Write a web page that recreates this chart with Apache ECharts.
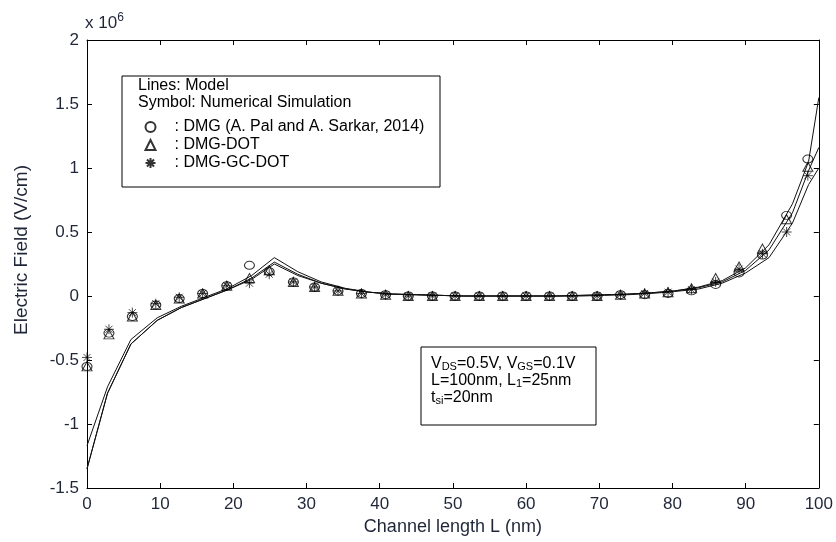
<!DOCTYPE html>
<html><head><meta charset="utf-8">
<script src="https://cdn.jsdelivr.net/npm/echarts@6/dist/echarts.min.js"></script>
<style>html,body{margin:0;padding:0;background:#fff}#c{width:836px;height:542px}</style>
</head><body><div id="c"></div>
<script>
// x positions (nm) of numerical simulation points
const simX = [0, 3.0, 6.2, 9.4, 12.6, 15.8, 19.1, 22.2, 24.9, 28.2, 31.1, 34.3, 37.5, 40.8, 43.9, 47.2, 50.3, 53.6, 56.8, 60.0, 63.2, 66.3, 69.7, 72.9, 76.2, 79.4, 82.6, 85.9, 89.1, 92.3, 95.6, 98.5];
// simulation values (x 10^6 V/cm)
const simDMG   = [-0.55, -0.29, -0.16, -0.07, -0.02, 0.02, 0.08, 0.24, 0.19, 0.11, 0.07, 0.04, 0.02, 0.01, 0.0, 0.0, 0.0, 0.0, 0.0, 0.0, 0.0, 0.0, 0.0, 0.01, 0.01, 0.02, 0.04, 0.09, 0.18, 0.32, 0.63, 1.07];
const simDOT   = [-0.55, -0.30, -0.16, -0.07, -0.02, 0.02, 0.08, 0.14, 0.20, 0.11, 0.07, 0.04, 0.02, 0.01, 0.0, 0.0, 0.0, 0.0, 0.0, 0.0, 0.0, 0.0, 0.0, 0.01, 0.02, 0.03, 0.06, 0.14, 0.23, 0.37, 0.60, 1.01];
const simGCDOT = [-0.48, -0.26, -0.13, -0.06, -0.01, 0.02, 0.08, 0.10, 0.17, 0.11, 0.07, 0.04, 0.02, 0.01, 0.0, 0.0, 0.0, 0.0, 0.0, 0.0, 0.0, 0.0, 0.0, 0.01, 0.02, 0.03, 0.05, 0.11, 0.21, 0.33, 0.50, 0.94];
// model lines
const modelX = [0, 2.8, 6.0, 9.6, 12.9, 16.1, 19.3, 22.5, 25.6, 28.8, 32.0, 35.3, 38.5, 41.7, 45.0, 48.2, 51.4, 54.6, 57.8, 61.0, 64.2, 67.5, 70.7, 73.9, 77.1, 80.3, 83.6, 86.8, 90.0, 93.2, 96.4, 98.6, 100];
const modelDMG   = [-1.17, -0.71, -0.34, -0.17, -0.08, -0.01, 0.06, 0.16, 0.30, 0.19, 0.11, 0.06, 0.03, 0.015, 0.01, 0.005, 0, 0, 0, 0, 0, 0.005, 0.01, 0.015, 0.025, 0.04, 0.07, 0.12, 0.22, 0.40, 0.72, 1.05, 1.55];
const modelDOT   = [-1.35, -0.76, -0.375, -0.19, -0.09, -0.02, 0.05, 0.14, 0.265, 0.17, 0.10, 0.055, 0.03, 0.015, 0.01, 0.005, 0, 0, 0, 0, 0, 0.005, 0.01, 0.015, 0.025, 0.04, 0.065, 0.11, 0.20, 0.36, 0.65, 0.98, 1.16];
const modelGCDOT = [-1.35, -0.76, -0.375, -0.19, -0.09, -0.02, 0.05, 0.13, 0.25, 0.16, 0.10, 0.055, 0.03, 0.015, 0.01, 0.005, 0, 0, 0, 0, 0, 0, 0.005, 0.01, 0.02, 0.035, 0.055, 0.10, 0.18, 0.30, 0.57, 0.87, 1.0];
const seriesNames = ['DMG (A. Pal and A. Sarkar, 2014)', 'DMG-DOT', 'DMG-GC-DOT'];

const zip = (xs, ys) => xs.map((x, i) => [x, ys[i]]);
const TXT = '#1f2638';
const FONT = 'Arial, "Liberation Sans", sans-serif';
const STAR = 'path://M5,0L5,10M0,5L10,5M1.5,1.5L8.5,8.5M8.5,1.5L1.5,8.5';

const chart = echarts.init(document.getElementById('c'), null, {renderer: 'canvas'});
const lineStyle = {color: '#111', width: 1};
const symStyle = {color: 'none', borderColor: '#000', borderWidth: 1};
const starStyle = {color: 'none', borderColor: '#000', borderWidth: 0.9};
chart.setOption({
  animation: false,
  backgroundColor: '#fff',
  grid: {left: 87, right: 16, top: 40, bottom: 54, containLabel: false},
  xAxis: [{
    type: 'value', min: 0, max: 100, interval: 10,
    axisLine: {onZero: false, lineStyle: {color: '#000', width: 1}},
    axisTick: {inside: true, length: 5, lineStyle: {color: '#000'}},
    axisLabel: {color: TXT, fontSize: 17, fontFamily: FONT, margin: 8},
    splitLine: {show: false},
    name: 'Channel length L (nm)', nameLocation: 'middle', nameGap: 30,
    nameTextStyle: {color: TXT, fontSize: 18, fontFamily: FONT}
  }, {
    type: 'value', min: 0, max: 100, interval: 10, position: 'top',
    axisLine: {onZero: false, lineStyle: {color: '#000'}},
    axisTick: {inside: true, length: 5, lineStyle: {color: '#000'}},
    axisLabel: {show: false}, splitLine: {show: false}
  }],
  yAxis: [{
    type: 'value', min: -1.5, max: 2, interval: 0.5,
    axisLine: {onZero: false, lineStyle: {color: '#000'}},
    axisTick: {inside: true, length: 5, lineStyle: {color: '#000'}},
    axisLabel: {color: TXT, fontSize: 17, fontFamily: FONT, margin: 8},
    splitLine: {show: false}
  }, {
    type: 'value', min: -1.5, max: 2, interval: 0.5, position: 'right',
    axisLine: {onZero: false, lineStyle: {color: '#000'}},
    axisTick: {inside: true, length: 5, lineStyle: {color: '#000'}},
    axisLabel: {show: false}, splitLine: {show: false}
  }],
  legend: {
    orient: 'vertical', left: 138, top: 114, itemGap: 2,
    itemWidth: 10, itemHeight: 10,
    data: seriesNames,
    formatter: n => ': ' + n,
    textStyle: {color: '#000', fontSize: 16, fontFamily: FONT, lineHeight: 16, padding: [0, 0, 0, 14]},
    z: 10
  },
  graphic: [
    {type: 'rect', shape: {x: 122, y: 76, width: 318, height: 111}, style: {fill: '#fff', stroke: '#000', lineWidth: 1}, z: 5},
    {type: 'text', x: 138, y: 78, style: {text: 'Lines: Model', fill: '#000', font: '16px ' + FONT}, z: 11},
    {type: 'text', x: 138, y: 95, style: {text: 'Symbol: Numerical Simulation', fill: '#000', font: '16px ' + FONT}, z: 11},
    {type: 'rect', shape: {x: 421, y: 347, width: 175, height: 78}, style: {fill: '#fff', stroke: '#000', lineWidth: 1}, z: 5},
    {type: 'text', x: 431, y: 355, z: 11, style: {
      text: 'V{s|DS}=0.5V, V{s|GS}=0.1V\nL=100nm, L{s|1}=25nm\nt{s|si}=20nm',
      fill: '#000', font: '16px ' + FONT, lineHeight: 17,
      rich: {s: {fontSize: 11, fontFamily: FONT, fill: '#000', verticalAlign: 'bottom', lineHeight: 17, padding: [6, 0, 0, 0]}}
    }},
    {type: 'text', x: 85, y: 12, z: 11, style: {
      text: 'x 10{p|6}', fill: TXT, font: '17px ' + FONT,
      rich: {p: {fontSize: 12, fontFamily: FONT, fill: TXT, padding: [0, 0, 10, 0]}}
    }},
    {type: 'text', x: 22, y: 250, rotation: Math.PI / 2, z: 11, style: {
      text: 'Electric Field (V/cm)', fill: TXT, font: '19px ' + FONT, align: 'center', verticalAlign: 'middle'
    }}
  ],
  series: [
    {type: 'line', data: zip(modelX, modelDMG), showSymbol: false, lineStyle, z: 2, silent: true},
    {type: 'line', data: zip(modelX, modelDOT), showSymbol: false, lineStyle, z: 2, silent: true},
    {type: 'line', data: zip(modelX, modelGCDOT), showSymbol: false, lineStyle, z: 2, silent: true},
    {type: 'scatter', name: seriesNames[0], data: zip(simX, simDMG), symbol: 'circle', symbolSize: [10, 8], itemStyle: symStyle, z: 3},
    {type: 'scatter', name: seriesNames[1], data: zip(simX, simDOT), symbol: 'triangle', symbolSize: [10, 9], itemStyle: symStyle, z: 3},
    {type: 'scatter', name: seriesNames[2], data: zip(simX, simGCDOT), symbol: STAR, symbolSize: 10, itemStyle: starStyle, z: 3}
  ]
});
</script></body></html>
